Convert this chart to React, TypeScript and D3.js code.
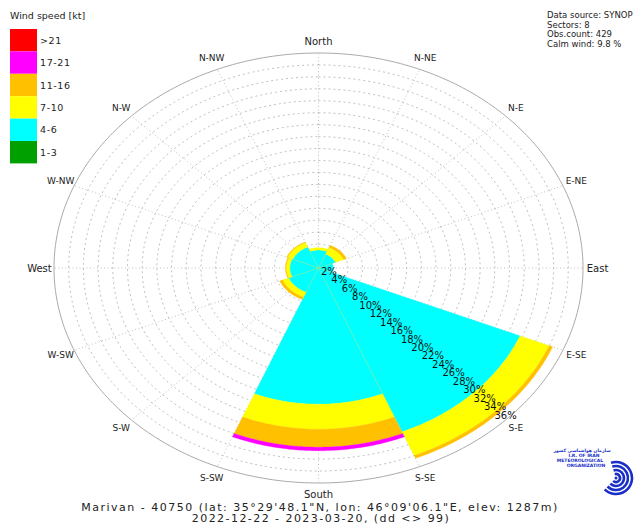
import React from "react";
import * as d3 from "d3";

// ---------- DATA ----------
const directionLabels = ["North","N-NE","N-E","E-NE","East","E-SE","S-E","S-SE","South","S-SW","S-W","W-SW","West","W-NW","N-W","N-NW"];
const sectorNames = ["N","NE","E","SE","S","SW","W","NW"];
const speedBins = ["1-3","4-6","7-10","11-16","17-21",">21"];
// frequency (%) per sector, one array per speed class
const freq1to3 = [0, 0, 0, 0, 0, 0, 0, 0];
const freq4to6 = [3.0, 2.5, 2.0, 29.7, 22.8, 4.4, 3.9, 3.8];
const freq7to10 = [0.4, 1.2, 0.0, 4.3, 4.2, 0.9, 0.5, 0.8];
const freq11to16 = [0.0, 0.4, 0.0, 0.5, 3.0, 0.4, 0.1, 0.1];
const freq17to21 = [0, 0, 0, 0, 0.6, 0, 0, 0];
const freqOver21 = [0, 0, 0, 0, 0, 0, 0, 0];
const ringTicks = [2,4,6,8,10,12,14,16,18,20,22,24,26,28,30,32,34,36];
const infoLines = ["Data source: SYNOP","Sectors: 8","Obs.count: 429","Calm wind: 9.8 %"];
const footerLines = ["Marivan - 40750 (lat: 35°29'48.1\"N, lon: 46°09'06.1\"E, elev: 1287m)", "2022-12-22 - 2023-03-20, (dd <> 99)"];

const binColors = ["#00a000","#00ffff","#ffff00","#ffc000","#ff00ff","#ff0000"];

const W = 638, H = 525;
const cx = 318.5, cy = 268, rx = 264.5, ry = 215;
const FONT = "DejaVu Sans, Verdana, sans-serif";

export default function App() {
  const series = [freq1to3, freq4to6, freq7to10, freq11to16, freq17to21, freqOver21];
  const rScale = d3.scaleLinear().domain([0, 36]).range([0, 1]);
  const angle = d3.scaleLinear().domain([0, 360]).range([0, 2 * Math.PI]);
  const pt = (deg: number, v: number): [number, number] => {
    const a = angle(deg);
    const r = rScale(v);
    return [cx + rx * r * Math.sin(a), cy - ry * r * Math.cos(a)];
  };
  const line = d3.line();
  const ellipsePath = (v: number) => {
    const pts = d3.range(0, 361, 1).map((d) => pt(d, v));
    return line(pts) + "Z";
  };
  const sectorPath = (a0: number, a1: number, v0: number, v1: number) => {
    const steps = d3.range(0, 61).map((i) => a0 + ((a1 - a0) * i) / 60);
    const outer = steps.map((a) => pt(a, v1));
    const inner = v0 > 0 ? steps.slice().reverse().map((a) => pt(a, v0)) : [pt(0, 0)];
    return line([...outer, ...inner]) + "Z";
  };

  const totals = sectorNames.map((_, i) => d3.sum(series, (arr) => arr[i]));

  // stacked segments
  const segs: { d: string; color: string; key: string }[] = [];
  sectorNames.forEach((s, i) => {
    let base = 0;
    const a0 = i * 45 - 22.5, a1 = i * 45 + 22.5;
    series.forEach((arr, b) => {
      const v = arr[i];
      if (v > 0) {
        segs.push({ d: sectorPath(a0, a1, base, base + v), color: binColors[b], key: s + b });
      }
      base += v;
    });
  });

  const legendY0 = 29, legendH = 22.4;
  const legendOrder = d3.range(speedBins.length).reverse();

  return (
    <svg width={W} height={H} style={{ position: "absolute", left: 0, top: 0, background: "#fff" }} fontFamily={FONT}>
      <rect width={W} height={H} fill="#fff" />
      {/* grid rings */}
      {ringTicks.slice(0, -1).map((t) => (
        <path key={"r" + t} d={ellipsePath(t)} fill="none" stroke="#b0b0b0" strokeWidth={0.8} strokeDasharray="2,3" />
      ))}
      <path d={ellipsePath(36)} fill="none" stroke="#aaa" strokeWidth={1} />
      {/* radial lines */}
      {directionLabels.map((_, i) => {
        const [x, y] = pt(i * 22.5, 36);
        return <line key={"rl" + i} x1={cx} y1={cy} x2={x} y2={y} stroke="#b0b0b0" strokeWidth={0.8} strokeDasharray="1,2.5" />;
      })}
      {/* bars */}
      {segs.map((s) => (
        <path key={s.key} d={s.d} fill={s.color} stroke={s.color} strokeWidth={0.3} />
      ))}
      {/* sector boundary lines */}
      {sectorNames.map((_, i) => {
        const prev = (i + 7) % 8;
        const [x, y] = pt(i * 45 - 22.5, Math.min(totals[i], totals[prev]));
        return <line key={"sb" + i} x1={cx} y1={cy} x2={x} y2={y} stroke="#b8e070" strokeWidth={0.6} opacity={0.8} />;
      })}
      {/* percent labels */}
      {ringTicks.map((t) => {
        const [x, y] = pt(135, t);
        return (
          <text key={"pl" + t} x={x} y={y - 1.5} fontSize={10} textAnchor="middle" fill="#111">{t}%</text>
        );
      })}
      {/* direction labels */}
      {directionLabels.map((lab, i) => {
        const [x, y] = pt(i * 22.5, 36 * 1.055);
        const cardinal = i % 4 === 0;
        return (
          <text key={lab} x={x} y={y} fontSize={cardinal ? 10 : 9} textAnchor="middle" dominantBaseline="central" fill="#222">{lab}</text>
        );
      })}
      {/* legend */}
      <text x={10} y={19} fontSize={9.5} fill="#222">Wind speed [kt]</text>
      {legendOrder.map((b, k) => (
        <g key={"lg" + b}>
          <rect x={10} y={legendY0 + k * legendH} width={27} height={legendH} fill={binColors[b]} />
          <text x={40} y={legendY0 + k * legendH + legendH / 2} dominantBaseline="central" fontSize={9.5} fill="#222" letterSpacing={0.6}>{speedBins[b]}</text>
        </g>
      ))}
      {/* info */}
      {infoLines.map((l, i) => (
        <text key={l} x={547} y={18 + i * 9.5} fontSize={8.5} fill="#222">{l}</text>
      ))}
      {/* footer */}
      <text x={320} y={511} fontSize={11} textAnchor="middle" fill="#222" letterSpacing={1.5}>{footerLines[0]}</text>
      <text x={321} y={522} fontSize={11} textAnchor="middle" fill="#222" letterSpacing={1.45}>{footerLines[1]}</text>
      {/* logo */}
      <g>
        <text x={582} y={452} fontSize={4.5} fill="#1a2fc8" textAnchor="middle" fontWeight="bold">سازمان هواشناسی کشور</text>
        <text x={584} y={457} fontSize={4.5} fill="#1a2fc8" textAnchor="middle" fontWeight="bold">I.R. OF IRAN</text>
        <text x={580} y={462} fontSize={4.5} fill="#1a2fc8" textAnchor="middle" fontWeight="bold">METEOROLOGICAL</text>
        <text x={586} y={467} fontSize={4.5} fill="#1a2fc8" textAnchor="middle" fontWeight="bold">ORGANIZATION</text>
        {[4, 8, 12, 16].map((r) => {
          const arc = d3.arc()({ innerRadius: r - 1.3, outerRadius: r + 1.3, startAngle: -Math.PI * 0.1, endAngle: Math.PI * 1.25 } as any);
          return <path key={"lo" + r} d={arc as string} transform="translate(616,478)" fill="#1a2fc8" />;
        })}
        <circle cx={616} cy={478} r={1.5} fill="#1a2fc8" />
      </g>
    </svg>
  );
}
